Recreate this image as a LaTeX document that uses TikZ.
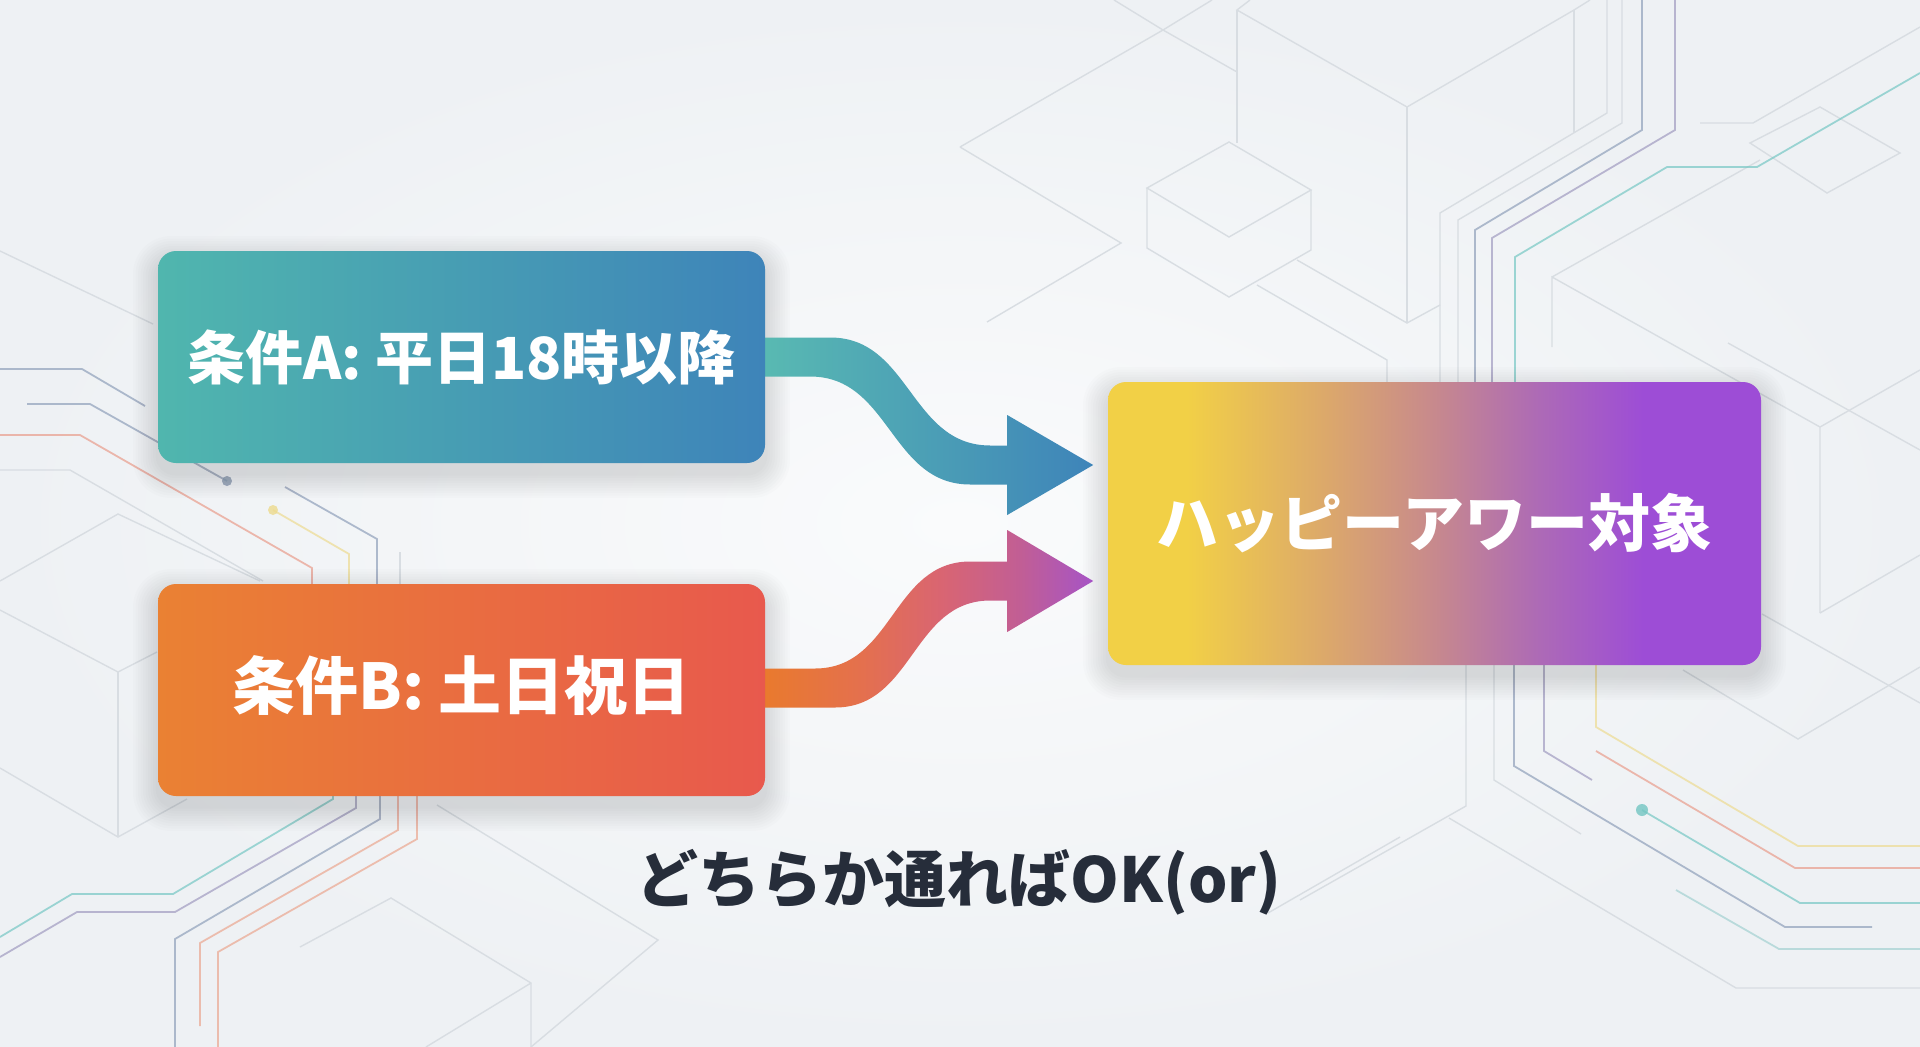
\documentclass[tikz,border=0pt]{standalone}
\usepackage{fontspec}
\setmainfont{Noto Sans CJK JP}
\usetikzlibrary{calc}
\definecolor{bgIn}{HTML}{FAFBFC}
\definecolor{bgOut}{HTML}{EEF1F4}
\definecolor{lineGray}{HTML}{D8DDE2}
\definecolor{cTeal}{HTML}{72C6C2}
\definecolor{cBlue}{HTML}{8C9DB8}
\definecolor{cPurp}{HTML}{9D98BE}
\definecolor{cOrange}{HTML}{EBA48C}
\definecolor{cYellow}{HTML}{EDDA8E}
\definecolor{cRed}{HTML}{E99A88}
\definecolor{aL}{HTML}{50B6AE}
\definecolor{aR}{HTML}{3E84B9}
\definecolor{bL}{HTML}{EA8133}
\definecolor{bR}{HTML}{E8594D}
\definecolor{capCol}{HTML}{262D3A}
\definecolor{hy1}{HTML}{F2D046}
\definecolor{hy2}{HTML}{DBA76C}
\definecolor{hy3}{HTML}{C7898D}
\definecolor{hy4}{HTML}{AD6AB6}
\definecolor{hy5}{HTML}{9D4DD6}
\definecolor{ob1}{HTML}{E97A2D}
\definecolor{ob2}{HTML}{E4704E}
\definecolor{ob3}{HTML}{D96572}
\definecolor{ob4}{HTML}{C15E95}
\definecolor{ob5}{HTML}{A654C6}
\pgfdeclarehorizontalshading{happyshade}{100bp}{color(0bp)=(hy1); color(25bp)=(hy1); color(31bp)=(hy1); color(42bp)=(hy2); color(50bp)=(hy3); color(58bp)=(hy4); color(66bp)=(hy5); color(75bp)=(hy5); color(100bp)=(hy5)}
\pgfdeclarehorizontalshading{arrowBshade}{100bp}{color(0bp)=(ob1); color(25bp)=(ob1); color(40bp)=(ob2); color(52bp)=(ob3); color(64bp)=(ob4); color(75bp)=(ob5); color(100bp)=(ob5)}
\pgfdeclarelayer{back}
\pgfsetlayers{back,main}
\newcommand\cardfont{\fontsize{58}{64}\selectfont\bfseries}
\newcommand\cardfontb{\fontsize{63}{68}\selectfont\bfseries}
\newcommand\targetfont{\fontsize{62}{68}\selectfont\bfseries}
\newcommand\capfont{\fontsize{62}{68}\selectfont\bfseries}
\newcommand\softshadow[4]{%
  \foreach \i in {1,...,10}{%
    \fill[black,opacity=0.011,rounded corners={18pt+\i*2pt}]
      (#1-\i*2.5,#2-\i*2.5+10) rectangle (#3+\i*2.5,#4+\i*2.5+10);}}
\begin{document}
\begin{tikzpicture}[x=1pt,y=-1pt,
  bgline/.style={draw=lineGray,line width=1.4pt},
  circ/.style={line width=1.8pt,opacity=0.68},
  card/.style={rounded corners=18pt,minimum width=607pt,minimum height=212pt,inner sep=0pt,text=white,font=\cardfont},
  bigcard/.style={rounded corners=18pt,minimum width=653pt,minimum height=283pt,inner sep=0pt,text=white,font=\targetfont}]
\useasboundingbox (0,0) rectangle (1920,1047);

% cards
\node[card,left color=aL,right color=aR] (boxA) at (461.5,357) {条件A: 平日18時以降};
\node[card,left color=bL,right color=bR] (boxB) at (461.5,690) {};
\node[font=\cardfontb,text=white,inner sep=0pt] (textB) at ($(boxB.center)+(0,-4)$) {条件B: 土日祝日};
\node[bigcard,shading=happyshade] (target) at (1434.5,523.5) {ハッピーアワー対象};
\node[font=\capfont,text=capCol,inner sep=0pt] (caption) at (959,882) {どちらか通ればOK(or)};

\begin{pgfonlayer}{back}
\shade[inner color=bgIn,outer color=bgOut] (0,0) rectangle (1920,1047);

% faint isometric lines
\draw[bgline] (0,251) -- (153,324);
\draw[bgline] (0,581) -- (118,514) -- (260,581);
\draw[bgline] (0,610) -- (118,672) -- (157,652);
\draw[bgline] (118,672) -- (118,837);
\draw[bgline] (0,768) -- (118,837) -- (187,799);
\draw[bgline] (400,552) -- (400,584);
\draw[bgline] (437,805) -- (658,940) -- (531,1047);
\draw[bgline] (300,947) -- (391,898) -- (531,983) -- (531,1047);
\draw[bgline] (531,983) -- (426,1047);
\draw[bgline] (1400,837) -- (1268,913);
\draw[bgline] (960,147) -- (1163,30) -- (1212,0);
\draw[bgline] (1114,0) -- (1163,30) -- (1237,72);
\draw[bgline] (960,147) -- (1121,243) -- (987,322);
\draw[bgline] (1237,10) -- (1237,143);
\draw[bgline] (1250,0) -- (1237,10) -- (1407,107) -- (1574,10) -- (1590,0);
\draw[bgline] (1407,107) -- (1407,323);
\draw[bgline] (1574,10) -- (1574,133);
\draw[bgline] (1297,260) -- (1407,323) -- (1440,305);
\draw[bgline] (1257,285) -- (1387,360) -- (1387,382);
\draw[bgline] (1229,142) -- (1147,188) -- (1229,237) -- (1311,190) -- cycle;
\draw[bgline] (1147,188) -- (1147,248) -- (1229,297) -- (1311,250) -- (1311,190);
\draw[bgline] (1607,0) -- (1607,113) -- (1440,213) -- (1440,382);
\draw[bgline] (1622,0) -- (1622,123) -- (1458,220) -- (1458,382);
\draw[bgline] (1700,123) -- (1753,123) -- (1920,27);
\draw[bgline] (1750,143) -- (1820,107) -- (1900,153) -- (1827,193) -- cycle;
\draw[bgline] (1552,347) -- (1552,277) -- (1820,427) -- (1820,613);
\draw[bgline] (1552,277) -- (1760,160);
\draw[bgline] (1820,427) -- (1920,370);
\draw[bgline] (1820,613) -- (1920,555);
\draw[bgline] (1728,343) -- (1920,450);
\draw[bgline] (1466,665) -- (1466,806) -- (1300,900);
\draw[bgline] (1494,665) -- (1494,780) -- (1581,834);
\draw[bgline] (1449,818) -- (1736,988) -- (1920,988);
\draw[bgline] (1683,670) -- (1798,739) -- (1920,667);
\draw[bgline] (1762,614) -- (1920,703);
\draw[bgline] (0,470) -- (70,470) -- (263,581);

% circuit lines
\draw[circ,cBlue] (1642,0) -- (1642,130) -- (1475,230) -- (1475,382);
\draw[circ,cPurp] (1675,0) -- (1675,130) -- (1492,238) -- (1492,382);
\draw[circ,cTeal] (1920,73) -- (1757,167) -- (1667,167) -- (1515,257) -- (1515,382);
\draw[circ,cBlue] (1514,665) -- (1514,766) -- (1785,927) -- (1872,927);
\draw[circ,cPurp] (1544,665) -- (1544,751) -- (1592,780);
\draw[circ,cYellow] (1596,665) -- (1596,727) -- (1798,846) -- (1920,846);
\draw[circ,cRed] (1596,751) -- (1795,868) -- (1920,868);
\draw[circ,cTeal] (1642,810) -- (1800,903) -- (1920,903);
\fill[cTeal,opacity=0.8] (1642,810) circle (6);
\draw[circ,cTeal!55!lineGray] (1676,890) -- (1779,949) -- (1920,949);
\draw[circ,cBlue] (0,369) -- (82,369) -- (145,406);
\draw[circ,cBlue] (27,404) -- (90,404) -- (227,481);
\fill[cBlue,opacity=0.8] (227,481) circle (5);
\draw[circ,cRed] (0,435) -- (80,435) -- (312,568) -- (312,590);
\draw[circ,cYellow] (273,510) -- (349,554) -- (349,590);
\fill[cYellow,opacity=0.8] (273,510) circle (5);
\draw[circ,cBlue] (285,487) -- (377,539) -- (377,590);
\draw[circ,cTeal] (333,790) -- (333,799) -- (173,894) -- (72,894) -- (0,937);
\draw[circ,cPurp] (356,790) -- (356,808) -- (175,912) -- (77,912) -- (0,957);
\draw[circ,cBlue] (380,790) -- (380,819) -- (175,939) -- (175,1047);
\draw[circ,cOrange] (398,790) -- (398,830) -- (200,943) -- (200,1026);
\draw[circ,cOrange] (417,790) -- (417,839) -- (218,952) -- (218,1047);

% shadows
\softshadow{158}{251}{765}{463}
\softshadow{158}{584}{765}{796}
\softshadow{1108}{382}{1761}{665}

% arrows
\path[left color=aL!95!white,right color=aR] (boxA.east) ++(-2,-19.5)
  -- ++(67,0) .. controls +(80,0) and +(-80,0) .. ++(160,108)
  -- ++(17,0) -- ++(0,-30.5) -- ++(86,50) -- ++(-86,50) -- ++(0,-30.5)
  -- ++(-37,0) .. controls +(-80,0) and +(80,0) .. ++(-160,-108)
  -- ++(-47,0) -- cycle;
\path[shading=arrowBshade] (boxB.east) ++(-2,-21.5)
  -- ++(52,0) .. controls +(78,0) and +(-78,0) .. ++(155,-107)
  -- ++(37,0) -- ++(0,-31.5) -- ++(86,51) -- ++(-86,51) -- ++(0,-31.5)
  -- ++(-17,0) .. controls +(-78,0) and +(78,0) .. ++(-155,107)
  -- ++(-72,0) -- cycle;
\end{pgfonlayer}
\end{tikzpicture}
\end{document}
